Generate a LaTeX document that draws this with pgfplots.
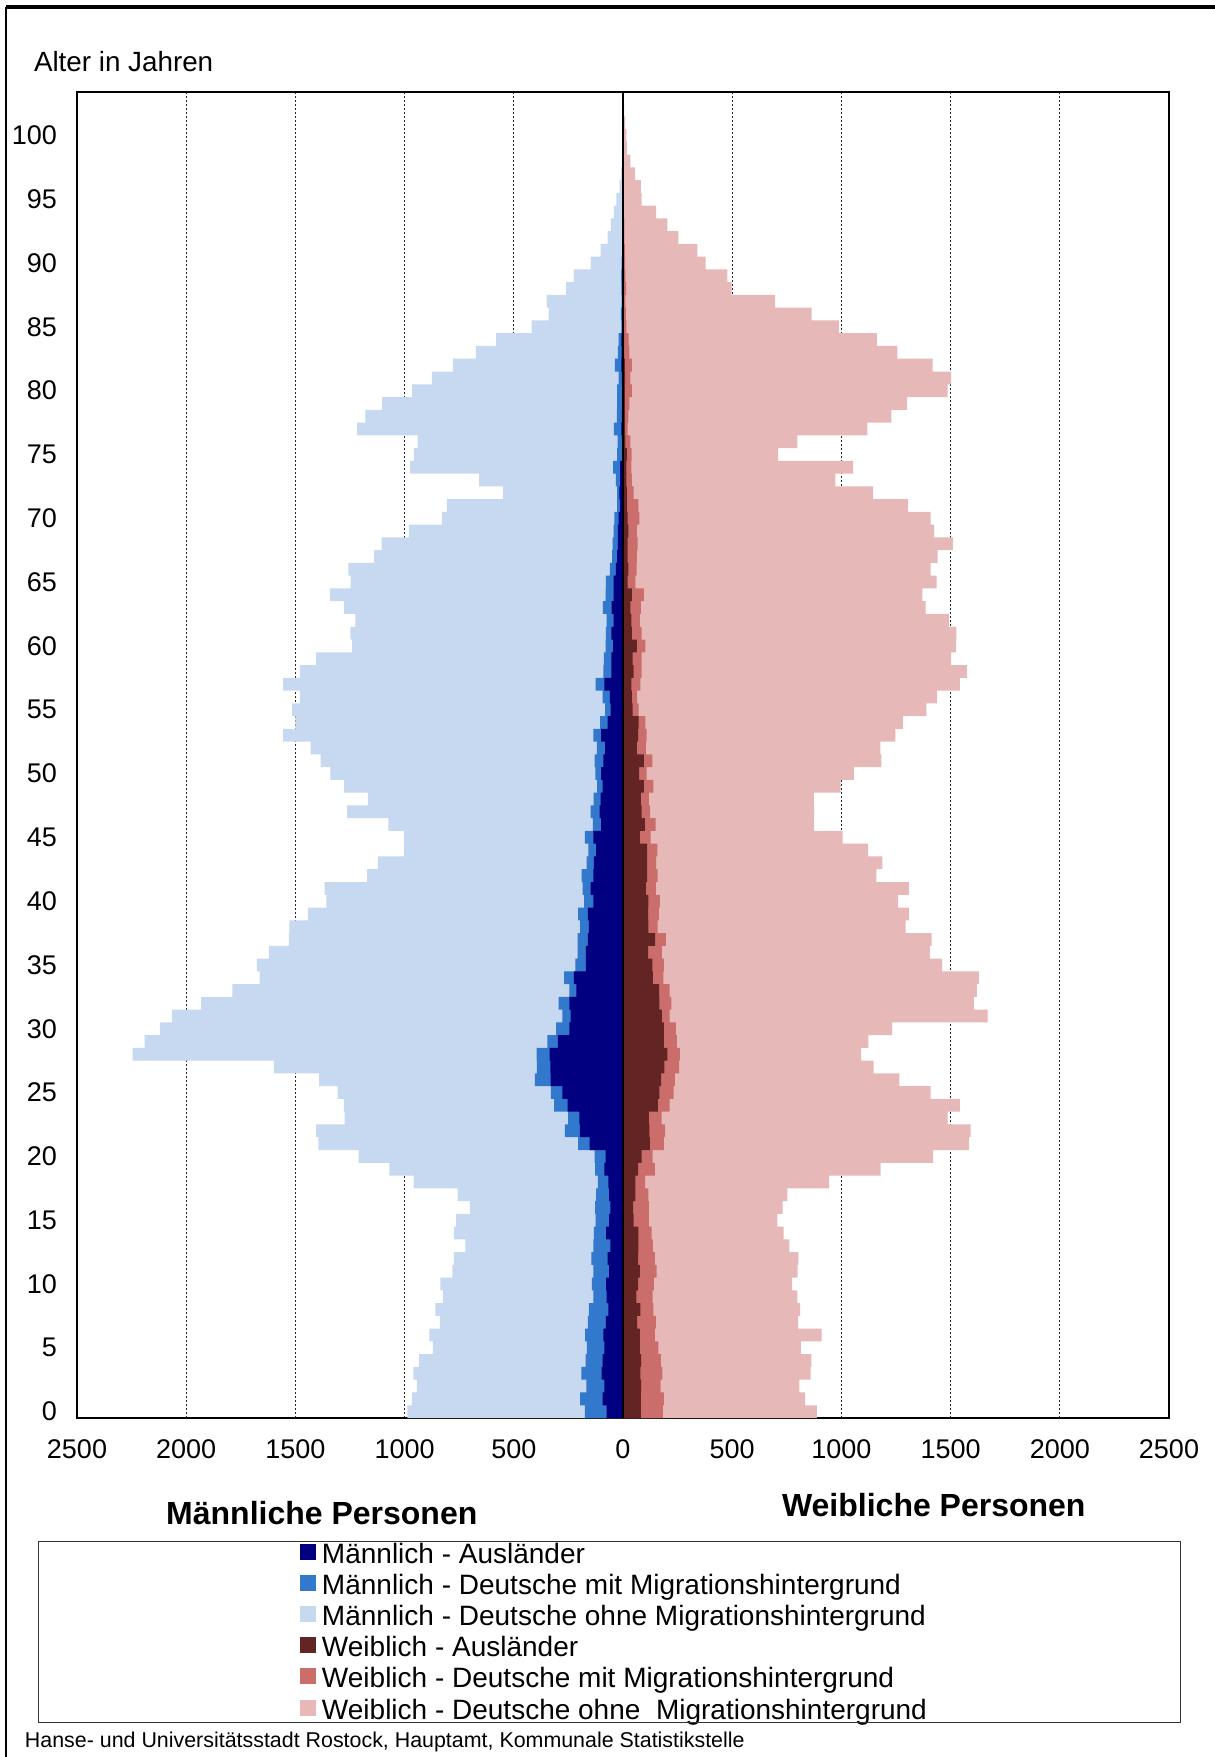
\documentclass[border=0pt]{standalone}
\usepackage{fontspec}
\setmainfont{Liberation Sans}
\usepackage{pgfplots}
\usepackage{pgfplotstable}
\pgfplotsset{compat=1.18}

\definecolor{mA}{RGB}{0,0,128}
\definecolor{mM}{RGB}{50,120,205}
\definecolor{mO}{RGB}{198,217,240}
\definecolor{wA}{RGB}{99,37,35}
\definecolor{wM}{RGB}{203,110,107}
\definecolor{wO}{RGB}{230,185,184}

% outer edges of the stacked bars (cumulative): Auslaender, +mit MH, +ohne MH
\pgfplotstableread{
age mA mM mT wA wM wT
0 -75 -175 -987 82 183 888
1 -93 -196 -967 82 187 834
2 -85 -168 -944 83 172 807
3 -98 -191 -960 80 180 859
4 -93 -171 -934 83 173 862
5 -85 -165 -870 77 162 815
6 -90 -173 -887 77 146 910
7 -78 -161 -839 65 151 802
8 -67 -156 -859 79 139 811
9 -75 -136 -824 61 136 798
10 -77 -143 -836 69 141 774
11 -63 -136 -781 77 154 800
12 -70 -145 -774 69 146 803
13 -58 -136 -722 70 137 762
14 -77 -133 -774 70 131 735
15 -63 -125 -764 49 118 707
16 -58 -128 -701 46 119 731
17 -63 -123 -757 57 116 753
18 -67 -115 -959 57 101 944
19 -85 -128 -1070 69 146 1180
20 -80 -130 -1210 85 136 1420
21 -153 -206 -1395 123 187 1585
22 -198 -266 -1405 121 193 1592
23 -200 -251 -1275 119 177 1486
24 -253 -315 -1278 160 214 1543
25 -278 -330 -1307 167 232 1409
26 -331 -404 -1391 175 237 1265
27 -333 -394 -1598 190 257 1148
28 -336 -396 -2245 203 260 1090
29 -298 -346 -2190 187 247 1124
30 -245 -306 -2120 187 242 1232
31 -240 -278 -2066 178 214 1669
32 -245 -295 -1932 167 221 1607
33 -213 -246 -1789 165 214 1620
34 -225 -270 -1664 137 185 1629
35 -170 -218 -1676 134 187 1461
36 -170 -208 -1621 115 178 1405
37 -161 -208 -1530 147 196 1413
38 -156 -196 -1528 116 159 1294
39 -161 -206 -1443 115 164 1309
40 -136 -178 -1358 116 169 1260
41 -148 -185 -1366 105 151 1309
42 -136 -190 -1172 110 159 1160
43 -133 -166 -1122 110 152 1188
44 -123 -158 -1002 110 157 1122
45 -136 -175 -1002 77 126 1006
46 -100 -138 -1074 100 149 874
47 -107 -148 -1263 85 124 875
48 -103 -135 -1168 82 118 874
49 -93 -118 -1277 95 139 996
50 -100 -126 -1340 74 108 1057
51 -90 -130 -1385 95 134 1183
52 -82 -120 -1430 64 105 1178
53 -100 -136 -1556 69 108 1247
54 -70 -105 -1500 72 103 1281
55 -57 -82 -1515 44 72 1389
56 -60 -93 -1480 41 65 1438
57 -85 -125 -1556 38 80 1543
58 -53 -90 -1480 49 85 1575
59 -53 -88 -1405 44 85 1502
60 -45 -80 -1240 64 103 1525
61 -53 -78 -1248 41 85 1526
62 -43 -75 -1225 38 77 1492
63 -52 -92 -1278 34 82 1386
64 -43 -80 -1342 41 95 1371
65 -43 -78 -1247 21 57 1436
66 -33 -60 -1258 25 62 1409
67 -27 -50 -1140 21 64 1441
68 -23 -47 -1105 21 67 1510
69 -23 -43 -980 25 64 1425
70 -20 -40 -829 21 75 1409
71 -13 -27 -806 18 70 1304
72 -17 -27 -549 18 49 1145
73 -13 -33 -659 15 41 972
74 -13 -45 -975 16 38 1054
75 -3 -27 -957 18 39 710
76 -3 -25 -940 11 34 798
77 -8 -42 -1217 8 21 1119
78 -5 -28 -1180 8 25 1229
79 -3 -27 -1103 8 29 1301
80 -3 -27 -965 8 41 1486
81 -5 -20 -875 10 34 1502
82 -8 -37 -779 8 41 1418
83 -6 -23 -674 5 29 1256
84 -8 -20 -581 5 26 1162
85 -4 -8 -418 4 16 988
86 -3 -10 -341 3 13 864
87 -2 -6 -350 3 11 697
88 -2 -8 -260 3 14 497
89 -5 -8 -226 5 11 478
90 -2 -6 -148 3 10 378
91 -1 -3 -103 2 8 340
92 -1 -3 -70 2 6 254
93 -1 -3 -55 2 6 203
94 -1 -2 -42 1 4 152
95 0 -1 -30 1 3 85
96 0 -1 -15 0 2 82
97 0 -1 -10 0 2 56
98 0 0 -5 0 1 34
99 0 0 -3 0 1 18
100 0 0 -2 0 0 16
101 0 0 0 0 0 10
102 0 0 0 0 0 5
}\pyramid

\begin{document}
\begin{tikzpicture}[x=1pt,y=1pt]
\useasboundingbox (0,0) rectangle (607.5,-878.5);
\draw[line width=1.6pt] (3,-3.5) -- (607.5,-3.5);
\draw[line width=0.6pt] (3,-3.5) -- (3,-878.5);

\begin{axis}[
  at={(38.5pt,-709pt)}, anchor=south west,
  width=546pt, height=663pt, scale only axis,
  xmin=-2500, xmax=2500, ymin=-0.5, ymax=103.4,
  xtick={-2500,-2000,...,2500},
  xticklabels={2500,2000,1500,1000,500,0,500,1000,1500,2000,2500},
  ytick={0,5,...,100},
  major tick length=0pt,
  xmajorgrids, grid style={black!85, line width=0.5pt, dash pattern=on 1.2pt off 0.8pt},
  axis line style={black, line width=0.6pt},
  /pgf/number format/assume math mode=true,
  tick label style={font=\fontsize{13.5}{16}\selectfont},
  xticklabel style={yshift=-7.2pt},
  yticklabel style={xshift=-6.5pt},
  bar width=1,
  legend style={draw=none, fill=none, at={(0.2042,-0.0928)}, anchor=north west,
    inner sep=0pt, outer sep=0pt, row sep=0pt, column sep=3pt,
    font=\fontsize{14}{15}\selectfont,
    nodes={inner sep=0pt, text height=9.8pt, text depth=4.3pt}},
  legend cell align=left,
  legend image code/.code={
    \path[draw=none, fill=none] (0pt,0.5pt) rectangle (8pt,8.5pt);
    \path[#1, draw=none, overlay] (0pt,-1pt) rectangle (8pt,7pt);},
]
\addplot[xbar, bar shift=0pt, fill=mO, draw=none, forget plot] table[x=mT, y=age] {\pyramid};
\addplot[xbar, bar shift=0pt, fill=mM, draw=none, forget plot] table[x=mM, y=age] {\pyramid};
\addplot[xbar, bar shift=0pt, fill=mA, draw=none, forget plot] table[x=mA, y=age] {\pyramid};
\addplot[xbar, bar shift=0pt, fill=wO, draw=none, forget plot] table[x=wT, y=age] {\pyramid};
\addplot[xbar, bar shift=0pt, fill=wM, draw=none, forget plot] table[x=wM, y=age] {\pyramid};
\addplot[xbar, bar shift=0pt, fill=wA, draw=none, forget plot] table[x=wA, y=age] {\pyramid};
\draw[black, line width=0.6pt] (axis cs:0,-0.5) -- (axis cs:0,103.4);

\addlegendimage{fill=mA}
\addlegendentry{Männlich - Ausländer}
\addlegendimage{fill=mM}
\addlegendentry{Männlich - Deutsche mit Migrationshintergrund}
\addlegendimage{fill=mO}
\addlegendentry{Männlich - Deutsche ohne Migrationshintergrund}
\addlegendimage{fill=wA}
\addlegendentry{Weiblich - Ausländer}
\addlegendimage{fill=wM}
\addlegendentry{Weiblich - Deutsche mit Migrationshintergrund}
\addlegendimage{fill=wO}
\addlegendentry{Weiblich - Deutsche ohne\ \ Migrationshintergrund}
\end{axis}

\node[anchor=west, inner sep=0pt, font=\fontsize{13.9}{16}\selectfont] at (16.8,-30.8) {Alter in Jahren};
\node[inner sep=0pt, font=\bfseries\fontsize{16}{19}\selectfont] at (160.9,-756.6) {Männliche Personen};
\node[inner sep=0pt, font=\bfseries\fontsize{16}{19}\selectfont] at (466.9,-752.7) {Weibliche Personen};
\draw[black!80, line width=0.6pt] (19.1,-770.6) rectangle (590.2,-861.4);
\node[anchor=west, inner sep=0pt, font=\fontsize{10.7}{12}\selectfont] at (12.3,-870.9) {Hanse- und Universitätsstadt Rostock, Hauptamt, Kommunale Statistikstelle};
\end{tikzpicture}
\end{document}
